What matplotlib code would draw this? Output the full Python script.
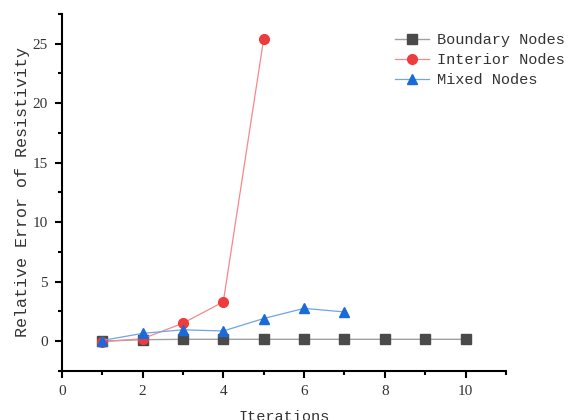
import numpy as np
import matplotlib.pyplot as plt
from matplotlib.ticker import MultipleLocator

plt.rcParams['font.family'] = ['Liberation Mono', 'DejaVu Sans']

# data
iters_boundary = [1, 2, 3, 4, 5, 6, 7, 8, 9, 10]
err_boundary = [0.0, 0.12, 0.15, 0.15, 0.15, 0.15, 0.15, 0.15, 0.15, 0.15]
iters_interior = [1, 2, 3, 4, 5]
err_interior = [-0.05, 0.2, 1.5, 3.3, 25.4]
iters_mixed = [1, 2, 3, 4, 5, 6, 7]
err_mixed = [0.05, 0.65, 0.95, 0.85, 1.9, 2.75, 2.45]

fig = plt.figure(figsize=(5.77, 4.2), dpi=100)
ax = fig.add_axes([0.107, 0.117, 0.770, 0.850])

ax.plot(iters_boundary, err_boundary, color='#a0a0a0', lw=1.0, marker='s', ms=6.5,
        mfc='#4a4a4a', mec='#4a4a4a', label='Boundary Nodes')
ax.plot(iters_interior, err_interior, color='#f7888a', lw=0.9, marker='o', ms=7,
        mfc='#ee3b3e', mec='#ee3b3e', label='Interior Nodes')
ax.plot(iters_mixed, err_mixed, color='#6ea4ec', lw=0.9, marker='^', ms=7.5,
        mfc='#1a6ad8', mec='#1a6ad8', label='Mixed Nodes')

ax.set_xlim(0, 11)
ax.set_ylim(-2.5, 27.5)
ax.xaxis.set_major_locator(MultipleLocator(2))
ax.xaxis.set_minor_locator(MultipleLocator(1))
ax.yaxis.set_major_locator(MultipleLocator(5))
ax.yaxis.set_minor_locator(MultipleLocator(2.5))
for s in ['top', 'right']:
    ax.spines[s].set_visible(False)
for s in ['left', 'bottom']:
    ax.spines[s].set_linewidth(1.5)
ax.tick_params(which='major', direction='out', length=5, width=1.5, pad=5)
ax.tick_params(which='minor', direction='out', length=3, width=1.5)
for lab in ax.get_xticklabels() + ax.get_yticklabels():
    lab.set_color('#333333')
    lab.set_family(['Liberation Serif', 'DejaVu Serif'])
    lab.set_fontsize(11)

ax.set_xlabel('Iterations', fontsize=11, color='#333333', labelpad=9)
ax.set_ylabel('Relative Error of Resistivity', fontsize=12, color='#333333', labelpad=2)

leg = ax.legend(loc='upper left', bbox_to_anchor=(0.72, 0.985), frameon=False, fontsize=11,
                handlelength=2.2, handletextpad=0.5, labelspacing=0.4)
for t in leg.get_texts():
    t.set_color('#333333')

fig.savefig('out.png', dpi=100)
